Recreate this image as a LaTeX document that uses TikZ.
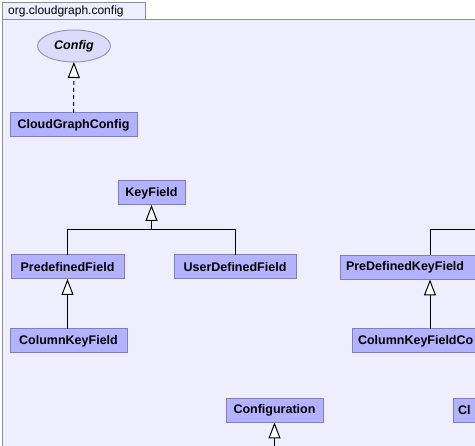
\documentclass[tikz,border=0pt]{standalone}
\usepackage{fontspec}
\setmainfont{Liberation Sans}
\usetikzlibrary{arrows.meta,shapes.geometric}
\definecolor{framefill}{HTML}{EEEEFF}
\definecolor{framedraw}{HTML}{8C8C9C}
\definecolor{boxfill}{HTML}{B2B2FF}
\definecolor{boxdraw}{HTML}{7F7FBF}
\definecolor{ellfill}{HTML}{DCDCFA}
\definecolor{elldraw}{HTML}{9A9AB8}
\tikzset{
  cls/.style={draw=boxdraw, fill=boxfill, line width=1pt, minimum height=24pt,
    inner sep=0pt, outer sep=0pt, font=\fontsize{12.5}{13}\selectfont\bfseries},
  iface/.style={ellipse, draw=elldraw, fill=ellfill, line width=1pt, minimum width=73pt,
    minimum height=32pt, inner sep=0pt, outer sep=0pt, font=\fontsize{12.5}{13}\selectfont\bfseries\itshape},
  gen/.style={line width=1pt, -{Triangle[length=16pt,width=12pt,fill=white,line width=1pt]}},
  conn/.style={line width=1pt},
  real/.style={gen, dash pattern=on 4pt off 3pt},
}
\begin{document}
\begin{tikzpicture}[x=1pt,y=-1pt]
\useasboundingbox (0,0) rectangle (475,446);
\clip (0,0) rectangle (475,446);
\fill[white] (0,0) rectangle (475,446);
% package frame and tab
\draw[framedraw, fill=framefill, line width=1pt] (2.5,20) rectangle (500,470);
\draw[framedraw, fill=framefill, line width=1pt] (2.5,2.5) rectangle (145,20);
\node[anchor=west, font=\fontsize{12}{13}\selectfont, inner sep=0pt] (tab) at (8,11.5) {org.cloudgraph.config};
% nodes
\node[iface] (config) at (74,46) {Config};
\node[cls, minimum width=127pt] (cgc) at (73.5,125) {CloudGraphConfig};
\node[cls, minimum width=67pt] (kf) at (151.5,193) {KeyField};
\node[cls, minimum width=113pt] (pf) at (67.5,267) {PredefinedField};
\node[cls, minimum width=122pt] (udf) at (235,267) {UserDefinedField};
\node[cls, minimum width=117pt] (ckf) at (68.5,341) {ColumnKeyField};
\node[cls, minimum width=160pt, anchor=west, text width=150pt, align=left, inner xsep=6pt] (pdkf) at (340,267.5) {PreDefinedKeyField};
\node[cls, minimum width=160pt, anchor=west, text width=150pt, align=left, inner xsep=6pt] (ckfc) at (352,341) {ColumnKeyFieldCo};
\node[cls, minimum width=97pt] (conf) at (274.5,410.5) {Configuration};
\node[cls, minimum width=60pt, anchor=west, text width=50pt, align=left, inner xsep=5pt] (cl) at (453,410.5) {Cl};
% helper coordinates
\coordinate (j) at (151.5,230);
\coordinate (offr) at (500,230);
\coordinate (offb) at (274.5,470);
% connectors
\draw[real] (cgc) -- (config);
\draw[gen] (pf.north) |- (j) -- (kf.south);
\draw[conn] (udf.north) |- (j);
\draw[conn] (pdkf.north -| 430,0) |- (offr);
\draw[gen] (ckf.north -| pf.south) -- (pf.south);
\draw[gen] (ckfc.north -| 430,0) -- (pdkf.south -| 430,0);
\draw[gen] (offb) -- (conf.south);
\end{tikzpicture}
\end{document}
